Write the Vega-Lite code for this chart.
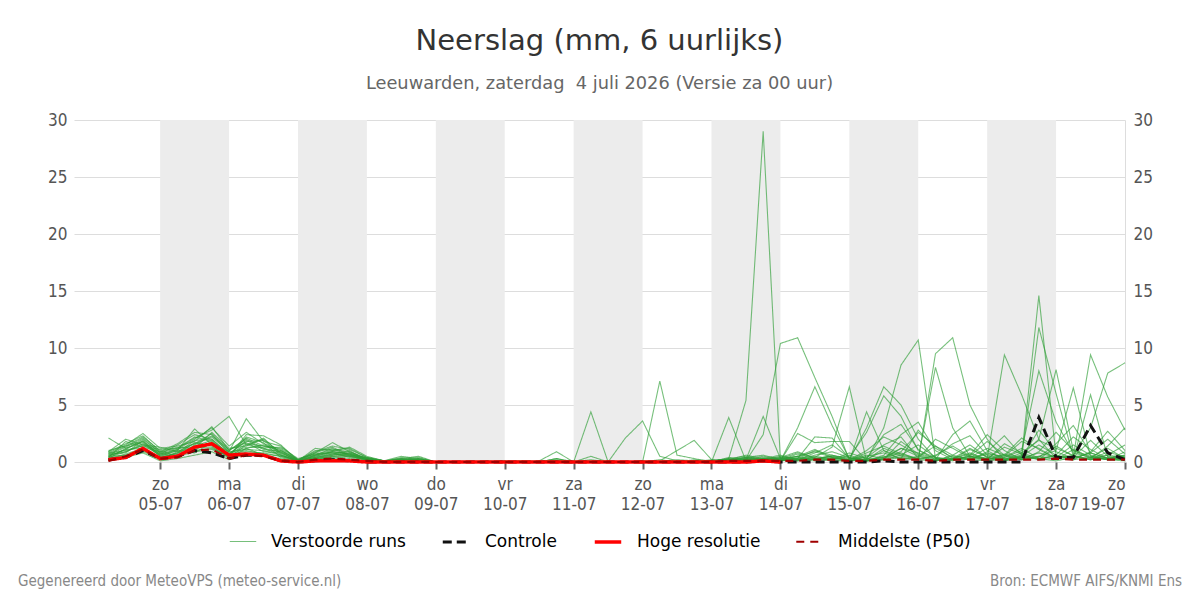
{
  "$schema": "https://vega.github.io/schema/vega-lite/v6.json",
  "background": "white",
  "padding": {"left": 18, "top": 27, "right": 18, "bottom": 6},
  "config": {
    "font": "DejaVu Sans",
    "view": {"stroke": null},
    "legend": {"layout": {"bottom": {"anchor": "middle"}}},
    "concat": {"spacing": 24}
  },
  "resolve": {
    "scale": {"color": "independent", "strokeDash": "independent", "strokeWidth": "independent", "opacity": "independent"},
    "legend": {"color": "independent", "strokeDash": "independent", "strokeWidth": "independent", "opacity": "independent"}
  },
  "datasets": {
    "series": [
      {"key": "m1", "type": "Verstoorde runs"}, {"key": "m2", "type": "Verstoorde runs"}, {"key": "m3", "type": "Verstoorde runs"},
      {"key": "m4", "type": "Verstoorde runs"}, {"key": "m5", "type": "Verstoorde runs"}, {"key": "m6", "type": "Verstoorde runs"},
      {"key": "m7", "type": "Verstoorde runs"}, {"key": "m8", "type": "Verstoorde runs"}, {"key": "m9", "type": "Verstoorde runs"},
      {"key": "m10", "type": "Verstoorde runs"}, {"key": "m11", "type": "Verstoorde runs"}, {"key": "m12", "type": "Verstoorde runs"},
      {"key": "m13", "type": "Verstoorde runs"}, {"key": "m14", "type": "Verstoorde runs"}, {"key": "m15", "type": "Verstoorde runs"},
      {"key": "m16", "type": "Verstoorde runs"}, {"key": "m17", "type": "Verstoorde runs"}, {"key": "m18", "type": "Verstoorde runs"},
      {"key": "m19", "type": "Verstoorde runs"}, {"key": "m20", "type": "Verstoorde runs"},
      {"key": "c", "type": "Controle"}, {"key": "h", "type": "Hoge resolutie"}, {"key": "p", "type": "Middelste (P50)"}
    ],
    "bands": [
      {"start": "2026-07-05T00:00", "end": "2026-07-06T00:00"},
      {"start": "2026-07-07T00:00", "end": "2026-07-08T00:00"},
      {"start": "2026-07-09T00:00", "end": "2026-07-10T00:00"},
      {"start": "2026-07-11T00:00", "end": "2026-07-12T00:00"},
      {"start": "2026-07-13T00:00", "end": "2026-07-14T00:00"},
      {"start": "2026-07-15T00:00", "end": "2026-07-16T00:00"},
      {"start": "2026-07-17T00:00", "end": "2026-07-18T00:00"}
    ],
    "ens": [
      {"t":"2026-07-04T06:00","m1":2.1,"m2":0.8,"m3":0.5,"m4":0.9,"m5":0.3,"m6":0.6,"m7":0.4,"m8":0.2,"m9":1.0,"m10":0.7,"m11":0.3,"m12":0.5,"m13":0.6,"m14":0.8,"m15":0.2,"m16":0.9,"m17":0.4,"m18":0.5,"m19":0.3,"m20":0.7,"c":0.2,"h":0.2,"p":0.1},
      {"t":"2026-07-04T12:00","m1":1.2,"m2":1.5,"m3":1.1,"m4":2.0,"m5":0.7,"m6":0.9,"m7":1.8,"m8":0.5,"m9":1.4,"m10":0.8,"m11":1.2,"m12":0.6,"m13":1.3,"m14":1.0,"m15":0.4,"m16":1.6,"m17":0.9,"m18":1.1,"m19":0.6,"m20":1.4,"c":0.4,"h":0.4,"p":0.5},
      {"t":"2026-07-04T18:00","m1":1.8,"m2":2.5,"m3":2.0,"m4":1.5,"m5":1.2,"m6":1.6,"m7":1.3,"m8":0.9,"m9":2.2,"m10":1.9,"m11":1.7,"m12":1.1,"m13":2.1,"m14":1.4,"m15":0.8,"m16":2.3,"m17":1.5,"m18":1.2,"m19":1.0,"m20":1.8,"c":1.0,"h":1.2,"p":1.1},
      {"t":"2026-07-05T00:00","m1":0.5,"m2":1.2,"m3":0.8,"m4":1.3,"m5":0.4,"m6":0.7,"m7":0.9,"m8":0.3,"m9":1.0,"m10":0.6,"m11":0.5,"m12":0.2,"m13":0.8,"m14":1.1,"m15":0.1,"m16":0.9,"m17":0.6,"m18":0.4,"m19":0.3,"m20":0.7,"c":0.3,"h":0.3,"p":0.3},
      {"t":"2026-07-05T06:00","m1":1.0,"m2":1.4,"m3":1.2,"m4":0.9,"m5":0.6,"m6":1.5,"m7":1.3,"m8":0.8,"m9":0.5,"m10":1.1,"m11":0.7,"m12":0.9,"m13":0.4,"m14":1.2,"m15":0.3,"m16":1.6,"m17":1.0,"m18":0.8,"m19":0.5,"m20":1.1,"c":0.5,"h":0.5,"p":0.4},
      {"t":"2026-07-05T12:00","m1":2.9,"m2":1.8,"m3":2.1,"m4":1.6,"m5":1.0,"m6":2.4,"m7":1.2,"m8":1.4,"m9":0.9,"m10":2.0,"m11":1.7,"m12":0.8,"m13":1.5,"m14":2.2,"m15":0.6,"m16":2.6,"m17":1.1,"m18":1.9,"m19":1.3,"m20":1.6,"c":1.0,"h":1.3,"p":1.0},
      {"t":"2026-07-05T18:00","m1":1.5,"m2":3.1,"m3":2.8,"m4":2.2,"m5":1.2,"m6":2.0,"m7":2.6,"m8":1.9,"m9":1.1,"m10":3.0,"m11":1.4,"m12":1.7,"m13":2.3,"m14":1.8,"m15":0.9,"m16":2.4,"m17":1.6,"m18":2.0,"m19":1.3,"m20":2.5,"c":0.8,"h":1.6,"p":1.1},
      {"t":"2026-07-06T00:00","m1":0.6,"m2":1.0,"m3":4.0,"m4":0.9,"m5":0.5,"m6":0.7,"m7":1.2,"m8":0.4,"m9":0.6,"m10":1.4,"m11":0.3,"m12":0.9,"m13":1.1,"m14":0.5,"m15":0.2,"m16":0.8,"m17":0.7,"m18":0.6,"m19":0.4,"m20":1.0,"c":0.3,"h":0.6,"p":0.3},
      {"t":"2026-07-06T06:00","m1":1.2,"m2":2.0,"m3":1.5,"m4":3.8,"m5":2.4,"m6":1.9,"m7":1.4,"m8":0.9,"m9":1.6,"m10":2.6,"m11":1.2,"m12":1.1,"m13":1.7,"m14":2.2,"m15":0.7,"m16":1.3,"m17":1.8,"m18":1.0,"m19":1.5,"m20":2.1,"c":0.6,"h":0.7,"p":0.6},
      {"t":"2026-07-06T12:00","m1":1.5,"m2":1.2,"m3":2.0,"m4":1.8,"m5":2.3,"m6":1.1,"m7":2.1,"m8":0.8,"m9":1.4,"m10":1.6,"m11":0.6,"m12":1.0,"m13":0.9,"m14":1.7,"m15":0.5,"m16":1.3,"m17":1.9,"m18":0.7,"m19":1.2,"m20":1.4,"c":0.6,"h":0.6,"p":0.5},
      {"t":"2026-07-06T18:00","m1":1.0,"m2":0.6,"m3":0.8,"m4":1.4,"m5":1.5,"m6":0.9,"m7":0.7,"m8":0.5,"m9":1.2,"m10":1.1,"m11":0.3,"m12":0.6,"m13":0.8,"m14":0.4,"m15":0.2,"m16":1.3,"m17":0.6,"m18":0.5,"m19":0.9,"m20":1.0,"c":0.1,"h":0.1,"p":0.1},
      {"t":"2026-07-07T00:00","m1":0.2,"m2":0.1,"m3":0.1,"m4":0.2,"m5":0.1,"m6":0.1,"m7":0,"m8":0.1,"m9":0.2,"m10":0.1,"m11":0,"m12":0.1,"m13":0.1,"m14":0,"m15":0,"m16":0.3,"m17":0.1,"m18":0,"m19":0.1,"m20":0.2,"c":0,"h":0,"p":0},
      {"t":"2026-07-07T06:00","m1":0.8,"m2":1.2,"m3":0.5,"m4":0.9,"m5":0.3,"m6":0.6,"m7":0.4,"m8":0.2,"m9":0.7,"m10":1.0,"m11":0.3,"m12":0.5,"m13":0.8,"m14":0.6,"m15":0.2,"m16":0.7,"m17":0.4,"m18":0.3,"m19":0.4,"m20":0.6,"c":0.1,"h":0.1,"p":0.2},
      {"t":"2026-07-07T12:00","m1":1.7,"m2":1.0,"m3":0.9,"m4":1.4,"m5":0.6,"m6":1.2,"m7":0.7,"m8":0.5,"m9":0.8,"m10":1.1,"m11":0.4,"m12":0.8,"m13":1.3,"m14":0.9,"m15":0.3,"m16":1.0,"m17":0.6,"m18":0.5,"m19":0.7,"m20":0.9,"c":0.2,"h":0.1,"p":0.3},
      {"t":"2026-07-07T18:00","m1":0.9,"m2":1.3,"m3":0.7,"m4":1.1,"m5":0.8,"m6":0.5,"m7":1.0,"m8":0.3,"m9":0.6,"m10":0.9,"m11":0.5,"m12":0.4,"m13":0.6,"m14":0.8,"m15":0.2,"m16":1.2,"m17":0.7,"m18":0.6,"m19":0.5,"m20":0.7,"c":0.1,"h":0.1,"p":0.2},
      {"t":"2026-07-08T00:00","m1":0.3,"m2":0.5,"m3":0.2,"m4":0.4,"m5":0.2,"m6":0.3,"m7":0.1,"m8":0.1,"m9":0.4,"m10":0.3,"m11":0.2,"m12":0.2,"m13":0.3,"m14":0.3,"m15":0.1,"m16":0.4,"m17":0.2,"m18":0.1,"m19":0.2,"m20":0.3,"c":0,"h":0,"p":0.1},
      {"t":"2026-07-08T06:00","m1":0,"m2":0.1,"m3":0,"m4":0.1,"m5":0,"m6":0.1,"m7":0,"m8":0,"m9":0.1,"m10":0,"m11":0,"m12":0,"m13":0.1,"m14":0,"m15":0,"m16":0.1,"m17":0,"m18":0,"m19":0,"m20":0.1,"c":0,"h":0,"p":0},
      {"t":"2026-07-08T12:00","m1":0.2,"m2":0.5,"m3":0.1,"m4":0.3,"m5":0,"m6":0.2,"m7":0.4,"m8":0,"m9":0.1,"m10":0.2,"m11":0.1,"m12":0.3,"m13":0.2,"m14":0.1,"m15":0,"m16":0.2,"m17":0.1,"m18":0.2,"m19":0.1,"m20":0.3,"c":0,"h":0,"p":0},
      {"t":"2026-07-08T18:00","m1":0.4,"m2":0.3,"m3":0.2,"m4":0.5,"m5":0.1,"m6":0,"m7":0.2,"m8":0,"m9":0.3,"m10":0.1,"m11":0,"m12":0.1,"m13":0.2,"m14":0.2,"m15":0.1,"m16":0.3,"m17":0.2,"m18":0.1,"m19":0,"m20":0.2,"c":0,"h":0,"p":0},
      {"t":"2026-07-09T00:00","m1":0,"m2":0,"m3":0,"m4":0,"m5":0,"m6":0,"m7":0,"m8":0,"m9":0,"m10":0,"m11":0,"m12":0,"m13":0,"m14":0,"m15":0,"m16":0,"m17":0,"m18":0,"m19":0,"m20":0,"c":0,"h":0,"p":0},
      {"t":"2026-07-09T06:00","m1":0,"m2":0,"m3":0,"m4":0,"m5":0,"m6":0,"m7":0,"m8":0,"m9":0,"m10":0,"m11":0,"m12":0,"m13":0,"m14":0,"m15":0,"m16":0,"m17":0,"m18":0,"m19":0,"m20":0,"c":0,"h":0,"p":0},
      {"t":"2026-07-09T12:00","m1":0,"m2":0.1,"m3":0,"m4":0,"m5":0,"m6":0,"m7":0,"m8":0,"m9":0,"m10":0,"m11":0,"m12":0,"m13":0,"m14":0,"m15":0,"m16":0,"m17":0,"m18":0,"m19":0,"m20":0,"c":0,"h":0,"p":0},
      {"t":"2026-07-09T18:00","m1":0,"m2":0,"m3":0,"m4":0.1,"m5":0,"m6":0,"m7":0,"m8":0,"m9":0,"m10":0,"m11":0,"m12":0,"m13":0,"m14":0,"m15":0,"m16":0,"m17":0,"m18":0,"m19":0,"m20":0,"c":0,"h":0,"p":0},
      {"t":"2026-07-10T00:00","m1":0.1,"m2":0,"m3":0,"m4":0,"m5":0,"m6":0.1,"m7":0,"m8":0,"m9":0,"m10":0,"m11":0,"m12":0,"m13":0,"m14":0,"m15":0,"m16":0,"m17":0,"m18":0,"m19":0,"m20":0,"c":0,"h":0,"p":0},
      {"t":"2026-07-10T06:00","m1":0,"m2":0,"m3":0,"m4":0,"m5":0,"m6":0,"m7":0.1,"m8":0,"m9":0,"m10":0,"m11":0,"m12":0,"m13":0,"m14":0,"m15":0,"m16":0.1,"m17":0,"m18":0,"m19":0,"m20":0,"c":0,"h":0,"p":0},
      {"t":"2026-07-10T12:00","m1":0,"m2":0.1,"m3":0,"m4":0,"m5":0,"m6":0,"m7":0,"m8":0,"m9":0,"m10":0,"m11":0,"m12":0,"m13":0.1,"m14":0,"m15":0,"m16":0,"m17":0,"m18":0,"m19":0,"m20":0,"c":0,"h":0,"p":0},
      {"t":"2026-07-10T18:00","m1":0.1,"m2":0.9,"m3":0.2,"m4":0,"m5":0,"m6":0,"m7":0,"m8":0.1,"m9":0.3,"m10":0,"m11":0,"m12":0,"m13":0,"m14":0,"m15":0,"m16":0,"m17":0,"m18":0.3,"m19":0,"m20":0,"c":0,"h":0,"p":0},
      {"t":"2026-07-11T00:00","m1":0,"m2":0,"m3":0,"m4":0,"m5":0,"m6":0,"m7":0,"m8":0,"m9":0,"m10":0,"m11":0,"m12":0,"m13":0,"m14":0.1,"m15":0,"m16":0,"m17":0,"m18":0,"m19":0,"m20":0,"c":0,"h":0,"p":0},
      {"t":"2026-07-11T06:00","m1":4.4,"m2":0.5,"m3":0,"m4":0,"m5":0.2,"m6":0,"m7":0,"m8":0,"m9":0,"m10":0.1,"m11":0,"m12":0,"m13":0,"m14":0,"m15":0,"m16":0,"m17":0,"m18":0,"m19":0,"m20":0,"c":0,"h":0,"p":0},
      {"t":"2026-07-11T12:00","m1":0,"m2":0,"m3":0,"m4":0,"m5":0,"m6":0.1,"m7":0,"m8":0,"m9":0,"m10":0,"m11":0,"m12":0,"m13":0,"m14":0,"m15":0,"m16":0,"m17":0,"m18":0,"m19":0,"m20":0,"c":0,"h":0,"p":0},
      {"t":"2026-07-11T18:00","m1":0,"m2":0,"m3":2.1,"m4":0,"m5":0,"m6":0,"m7":0,"m8":0,"m9":0,"m10":0,"m11":0,"m12":0,"m13":0,"m14":0,"m15":0,"m16":0,"m17":0,"m18":0,"m19":0,"m20":0,"c":0,"h":0,"p":0},
      {"t":"2026-07-12T00:00","m1":0.1,"m2":0,"m3":3.6,"m4":0,"m5":0,"m6":0,"m7":0.1,"m8":0,"m9":0,"m10":0,"m11":0,"m12":0,"m13":0,"m14":0,"m15":0,"m16":0,"m17":0,"m18":0,"m19":0,"m20":0,"c":0,"h":0,"p":0},
      {"t":"2026-07-12T06:00","m1":0,"m2":0.2,"m3":0.5,"m4":7.1,"m5":0.1,"m6":0,"m7":0,"m8":0,"m9":0,"m10":0,"m11":0,"m12":0,"m13":0,"m14":0,"m15":0,"m16":0,"m17":0,"m18":0,"m19":0,"m20":0,"c":0,"h":0,"p":0},
      {"t":"2026-07-12T12:00","m1":0,"m2":0,"m3":0.1,"m4":0.6,"m5":1.0,"m6":0.2,"m7":0,"m8":0,"m9":0,"m10":0,"m11":0,"m12":0,"m13":0,"m14":0,"m15":0,"m16":0,"m17":0.1,"m18":0,"m19":0,"m20":0,"c":0,"h":0,"p":0},
      {"t":"2026-07-12T18:00","m1":0.1,"m2":0,"m3":0,"m4":0.3,"m5":1.9,"m6":0.1,"m7":0.1,"m8":0,"m9":0,"m10":0,"m11":0,"m12":0,"m13":0,"m14":0,"m15":0,"m16":0,"m17":0,"m18":0,"m19":0,"m20":0.2,"c":0,"h":0,"p":0},
      {"t":"2026-07-13T00:00","m1":0,"m2":0,"m3":0.1,"m4":0,"m5":0.2,"m6":0,"m7":0.1,"m8":0,"m9":0,"m10":0.2,"m11":0,"m12":0.1,"m13":0,"m14":0.1,"m15":0,"m16":0,"m17":0.1,"m18":0.1,"m19":0,"m20":0.1,"c":0,"h":0,"p":0},
      {"t":"2026-07-13T06:00","m1":0.3,"m2":3.9,"m3":0.2,"m4":0.1,"m5":0.1,"m6":0.4,"m7":0.2,"m8":0.1,"m9":0.1,"m10":0.1,"m11":0.1,"m12":0.3,"m13":0.2,"m14":0.2,"m15":0.1,"m16":0.3,"m17":0.2,"m18":0.1,"m19":0.1,"m20":0.2,"c":0,"h":0,"p":0.1},
      {"t":"2026-07-13T12:00","m1":5.4,"m2":0.1,"m3":0.2,"m4":0.1,"m5":0.3,"m6":0.2,"m7":0.6,"m8":0.1,"m9":0.3,"m10":0.4,"m11":0.2,"m12":0.1,"m13":0.4,"m14":0.1,"m15":0.2,"m16":0.5,"m17":0.3,"m18":0.2,"m19":0.1,"m20":0.4,"c":0,"h":0,"p":0.1},
      {"t":"2026-07-13T18:00","m1":29.0,"m2":0.3,"m3":4.0,"m4":2.4,"m5":0.2,"m6":0.1,"m7":0.3,"m8":0.2,"m9":0.2,"m10":0.6,"m11":0.1,"m12":0.2,"m13":0.2,"m14":0.3,"m15":0.1,"m16":0.2,"m17":0.5,"m18":0.4,"m19":0.3,"m20":0.2,"c":0.1,"h":0.1,"p":0.1},
      {"t":"2026-07-14T00:00","m1":0.2,"m2":0.2,"m3":0.3,"m4":10.4,"m5":0.1,"m6":0.3,"m7":0.1,"m8":0.1,"m9":0.5,"m10":0.2,"m11":0.4,"m12":0.4,"m13":0.1,"m14":0.2,"m15":0.2,"m16":0.1,"m17":0.3,"m18":0.2,"m19":0.6,"m20":0.3,"c":0,"h":0,"p":0.1},
      {"t":"2026-07-14T06:00","m1":0.1,"m2":0.5,"m3":0.2,"m4":10.9,"m5":3.0,"m6":0.8,"m7":2.5,"m8":0.4,"m9":0.2,"m10":0.7,"m11":0.3,"m12":0.9,"m13":0.3,"m14":0.5,"m15":0.1,"m16":0.2,"m17":0.2,"m18":0.3,"m19":0.2,"m20":0.5,"c":0,"p":0.1},
      {"t":"2026-07-14T12:00","m1":0.3,"m2":1.1,"m3":0.8,"m4":7.4,"m5":6.6,"m6":0.4,"m7":1.7,"m8":0.2,"m9":0.1,"m10":0.3,"m11":1.0,"m12":0.3,"m13":2.2,"m14":0.2,"m15":0.3,"m16":0.5,"m17":0.6,"m18":0.2,"m19":0.4,"m20":0.9,"c":0,"p":0.2},
      {"t":"2026-07-14T18:00","m1":0.5,"m2":0.4,"m3":1.5,"m4":4.0,"m5":3.2,"m6":1.3,"m7":1.8,"m8":0.1,"m9":0.3,"m10":0.5,"m11":0.6,"m12":0.2,"m13":2.1,"m14":0.4,"m15":0.2,"m16":0.3,"m17":0.9,"m18":0.6,"m19":0.2,"m20":0.4,"c":0,"p":0.2},
      {"t":"2026-07-15T00:00","m1":0.1,"m2":0.2,"m3":0.4,"m4":0.2,"m5":0.3,"m6":6.6,"m7":1.8,"m8":0.1,"m9":0.2,"m10":0.4,"m11":0.2,"m12":0.6,"m13":0.3,"m14":0.1,"m15":0.1,"m16":0.2,"m17":0.4,"m18":0.3,"m19":0.8,"m20":0.2,"c":0,"p":0.1},
      {"t":"2026-07-15T06:00","m1":0.2,"m2":1.0,"m3":0.1,"m4":0.1,"m5":0.2,"m6":0.1,"m7":0.1,"m8":4.4,"m9":3.0,"m10":2.6,"m11":0.2,"m12":0.1,"m13":0.4,"m14":0.3,"m15":0.5,"m16":0.6,"m17":0.1,"m18":0.2,"m19":0.3,"m20":0.8,"c":0,"p":0.1},
      {"t":"2026-07-15T12:00","m1":0.4,"m2":2.2,"m3":0.6,"m4":0.3,"m5":1.2,"m6":0.2,"m7":0.5,"m8":1.0,"m9":6.6,"m10":5.8,"m11":3.0,"m12":0.2,"m13":1.5,"m14":2.4,"m15":0.8,"m16":0.3,"m17":0.4,"m18":1.0,"m19":0.2,"m20":1.4,"c":0.1,"p":0.2},
      {"t":"2026-07-15T18:00","m1":1.2,"m2":1.5,"m3":2.4,"m4":0.8,"m5":0.6,"m6":1.8,"m7":0.3,"m8":0.2,"m9":5.0,"m10":4.0,"m11":8.5,"m12":0.4,"m13":2.2,"m14":3.3,"m15":0.3,"m16":1.2,"m17":0.9,"m18":0.5,"m19":0.6,"m20":0.7,"c":0,"p":0.2},
      {"t":"2026-07-16T00:00","m1":0.5,"m2":0.6,"m3":3.5,"m4":0.2,"m5":0.3,"m6":0.7,"m7":2.8,"m8":0.5,"m9":2.0,"m10":1.0,"m11":10.7,"m12":0.2,"m13":0.3,"m14":1.1,"m15":0.2,"m16":0.8,"m17":2.6,"m18":0.3,"m19":1.5,"m20":0.3,"c":0,"p":0.2},
      {"t":"2026-07-16T06:00","m1":0.1,"m2":0.1,"m3":1.0,"m4":0.1,"m5":2.0,"m6":0.2,"m7":1.2,"m8":1.4,"m9":0.3,"m10":0.4,"m11":0.3,"m12":9.5,"m13":8.3,"m14":0.2,"m15":0.6,"m16":0.3,"m17":1.4,"m18":0.5,"m19":0.4,"m20":0.2,"c":0,"p":0.1},
      {"t":"2026-07-16T12:00","m1":0.3,"m2":0.3,"m3":0.2,"m4":0.6,"m5":1.2,"m6":2.4,"m7":0.4,"m8":0.6,"m9":0.1,"m10":0.2,"m11":0.2,"m12":10.9,"m13":3.0,"m14":0.3,"m15":1.4,"m16":0.2,"m17":0.3,"m18":1.6,"m19":0.2,"m20":0.5,"c":0,"p":0.2},
      {"t":"2026-07-16T18:00","m1":0.8,"m2":1.2,"m3":0.5,"m4":1.5,"m5":0.4,"m6":3.6,"m7":0.2,"m8":0.2,"m9":0.6,"m10":0.3,"m11":0.5,"m12":5.0,"m13":0.5,"m14":0.7,"m15":0.5,"m16":1.1,"m17":0.2,"m18":2.3,"m19":0.4,"m20":0.3,"c":0,"p":0.2},
      {"t":"2026-07-17T00:00","m1":0.2,"m2":0.4,"m3":1.8,"m4":0.4,"m5":0.2,"m6":1.0,"m7":0.9,"m8":0.1,"m9":2.4,"m10":0.7,"m11":0.3,"m12":2.0,"m13":0.2,"m14":0.3,"m15":0.3,"m16":0.5,"m17":0.8,"m18":0.6,"m19":1.2,"m20":0.2,"c":0,"p":0.2},
      {"t":"2026-07-17T06:00","m1":0.1,"m2":0.2,"m3":0.6,"m4":0.1,"m5":1.6,"m6":0.2,"m7":2.3,"m8":0.4,"m9":1.0,"m10":0.5,"m11":1.3,"m12":0.2,"m13":0.6,"m14":9.4,"m15":0.2,"m16":0.3,"m17":0.4,"m18":0.3,"m19":0.6,"m20":0.7,"c":0,"p":0.2},
      {"t":"2026-07-17T12:00","m1":0.5,"m2":0.8,"m3":0.2,"m4":0.3,"m5":0.8,"m6":0.4,"m7":0.6,"m8":1.2,"m9":0.2,"m10":1.8,"m11":0.7,"m12":0.3,"m13":2.1,"m14":5.9,"m15":0.5,"m16":0.4,"m17":1.0,"m18":0.6,"m19":0.2,"m20":0.4,"c":0,"p":0.2},
      {"t":"2026-07-17T18:00","m1":1.5,"m2":1.9,"m3":0.9,"m4":0.5,"m5":0.3,"m6":2.8,"m7":0.2,"m8":0.3,"m9":0.4,"m10":1.2,"m11":0.2,"m12":0.8,"m13":1.1,"m14":2.0,"m15":14.6,"m16":11.8,"m17":8.0,"m18":2.0,"m19":0.5,"m20":0.3,"c":3.9,"p":0.2},
      {"t":"2026-07-18T00:00","m1":0.6,"m2":1.2,"m3":2.6,"m4":0.2,"m5":0.6,"m6":0.9,"m7":1.4,"m8":0.1,"m9":1.6,"m10":0.3,"m11":0.6,"m12":0.4,"m13":0.3,"m14":0.3,"m15":0.5,"m16":6.0,"m17":3.5,"m18":8.1,"m19":1.0,"m20":0.5,"c":0.4,"p":0.3},
      {"t":"2026-07-18T06:00","m1":0.2,"m2":0.6,"m3":1.0,"m4":1.1,"m5":2.2,"m6":0.3,"m7":0.5,"m8":0.4,"m9":3.2,"m10":0.2,"m11":0.2,"m12":1.5,"m13":0.6,"m14":0.5,"m15":0.4,"m16":0.5,"m17":0.8,"m18":1.0,"m19":6.5,"m20":0.5,"c":0.4,"p":0.2},
      {"t":"2026-07-18T12:00","m1":5.9,"m2":3.0,"m3":0.3,"m4":0.4,"m5":1.1,"m6":0.8,"m7":0.2,"m8":1.9,"m9":0.8,"m10":0.9,"m11":0.4,"m12":0.6,"m13":0.2,"m14":0.2,"m15":0.8,"m16":0.3,"m17":0.4,"m18":0.5,"m19":0.5,"m20":9.4,"c":3.2,"p":0.2},
      {"t":"2026-07-18T18:00","m1":0.4,"m2":7.8,"m3":1.4,"m4":0.2,"m5":0.3,"m6":2.0,"m7":0.6,"m8":0.5,"m9":0.3,"m10":2.7,"m11":1.2,"m12":0.2,"m13":0.9,"m14":0.4,"m15":0.3,"m16":0.6,"m17":0.2,"m18":0.3,"m19":0.2,"m20":5.7,"c":0.8,"p":0.2},
      {"t":"2026-07-19T00:00","m1":0.2,"m2":8.7,"m3":3.0,"m4":0.5,"m5":0.6,"m6":0.7,"m7":1.5,"m8":0.2,"m9":0.4,"m10":1.0,"m11":0.3,"m12":0.3,"m13":0.4,"m14":0.6,"m15":0.2,"m16":0.4,"m17":0.9,"m18":0.2,"m19":0.1,"m20":2.8,"c":0.2,"p":0.2}
    ]
  },
  "vconcat": [
    {
      "width": 1051,
      "height": 342,
      "title": {
        "text": "Neerslag (mm, 6 uurlijks)",
        "subtitle": "Leeuwarden, zaterdag\u00a0 4 juli 2026 (Versie za 00 uur)",
        "font": "DejaVu Sans",
        "subtitleFont": "DejaVu Sans",
        "fontSize": 29,
        "fontWeight": "normal",
        "color": "#333333",
        "subtitleFontSize": 17.8,
        "subtitleColor": "#666666",
        "subtitlePadding": 19,
        "offset": 18,
        "anchor": "middle",
        "frame": "group"
      },
      "layer": [
        {
          "data": {"name": "bands"},
          "mark": {"type": "rect", "color": "#ececec"},
          "encoding": {
            "x": {
              "field": "start",
              "type": "temporal",
              "title": null,
              "scale": {"domain": [{"year": 2026, "month": 7, "date": 3, "hours": 18}, {"year": 2026, "month": 7, "date": 19}]},
              "axis": {
                "title": null,
                "orient": "bottom",
                "grid": false,
                "domain": false,
                "ticks": true,
                "tickColor": "#666666",
                "tickSize": 7,
                "tickWidth": 2,
                "labelFont": "DejaVu Sans Condensed, DejaVu Sans",
                "labelFontSize": 17,
                "labelColor": "#555555",
                "labelPadding": 7,
                "labelLineHeight": 20,
                "values": [
                  {"year": 2026, "month": 7, "date": 5}, {"year": 2026, "month": 7, "date": 6}, {"year": 2026, "month": 7, "date": 7},
                  {"year": 2026, "month": 7, "date": 8}, {"year": 2026, "month": 7, "date": 9}, {"year": 2026, "month": 7, "date": 10},
                  {"year": 2026, "month": 7, "date": 11}, {"year": 2026, "month": 7, "date": 12}, {"year": 2026, "month": 7, "date": 13},
                  {"year": 2026, "month": 7, "date": 14}, {"year": 2026, "month": 7, "date": 15}, {"year": 2026, "month": 7, "date": 16},
                  {"year": 2026, "month": 7, "date": 17}, {"year": 2026, "month": 7, "date": 18}, {"year": 2026, "month": 7, "date": 19}
                ],
                "labelExpr": "[['zo','ma','di','wo','do','vr','za'][day(datum.value)], timeFormat(datum.value, '%d-%m')]"
              }
            },
            "x2": {"field": "end"}
          }
        },
        {
          "mark": {"type": "rule", "color": "#dddddd", "strokeWidth": 1},
          "encoding": {
            "y": {
              "datum": 0, "type": "quantitative",
              "scale": {"domain": [0, 30], "nice": false},
              "axis": {"orient": "right", "title": null, "grid": false, "domain": true, "domainColor": "#dddddd", "ticks": false, "labelFont": "DejaVu Sans Condensed, DejaVu Sans", "labelFontSize": 17, "labelColor": "#555555", "labelPadding": 8, "values": [0, 5, 10, 15, 20, 25, 30]}
            }
          }
        },
        {
          "data": {"name": "ens"},
          "transform": [
            {"fold": ["m1","m2","m3","m4","m5","m6","m7","m8","m9","m10","m11","m12","m13","m14","m15","m16","m17","m18","m19","m20","c","h","p"], "as": ["key", "v"]},
            {"lookup": "key", "from": {"data": {"name": "series"}, "key": "key", "fields": ["type"]}}
          ],
          "mark": {"type": "line", "interpolate": "linear"},
          "encoding": {
            "x": {"field": "t", "type": "temporal", "title": null},
            "y": {
              "field": "v", "type": "quantitative", "title": null,
              "axis": {"orient": "left", "title": null, "grid": true, "gridColor": "#dddddd", "domain": false, "ticks": false, "labelFont": "DejaVu Sans Condensed, DejaVu Sans", "labelFontSize": 17, "labelColor": "#555555", "labelPadding": 7, "values": [0, 5, 10, 15, 20, 25, 30], "minExtent": 56, "maxExtent": 56}
            },
            "detail": {"field": "key"},
            "color": {
              "field": "type", "type": "nominal",
              "scale": {"domain": ["Verstoorde runs", "Controle", "Hoge resolutie", "Middelste (P50)"], "range": ["#2e9e35", "#111111", "#ff0000", "#a00000"]},
              "legend": {"title": null, "orient": "bottom", "direction": "horizontal", "symbolType": "stroke", "symbolSize": 700, "labelFontSize": 17, "labelColor": "#000000", "labelFont": "DejaVu Sans", "labelOffset": 14, "columnPadding": 30, "offset": 15}
            },
            "strokeDash": {
              "field": "type", "type": "nominal",
              "scale": {"domain": ["Verstoorde runs", "Controle", "Hoge resolutie", "Middelste (P50)"], "range": [[1, 0], [9, 5], [1, 0], [8, 6]]},
              "legend": {"title": null, "orient": "bottom", "direction": "horizontal", "symbolType": "stroke", "symbolSize": 700, "labelFontSize": 17, "labelColor": "#000000", "labelFont": "DejaVu Sans", "labelOffset": 14, "columnPadding": 30, "offset": 15}
            },
            "strokeWidth": {
              "field": "type", "type": "nominal",
              "scale": {"type": "ordinal", "domain": ["Verstoorde runs", "Controle", "Hoge resolutie", "Middelste (P50)"], "range": [1.1, 3, 3.5, 2.2]},
              "legend": {"title": null, "orient": "bottom", "direction": "horizontal", "symbolType": "stroke", "symbolSize": 700, "labelFontSize": 17, "labelColor": "#000000", "labelFont": "DejaVu Sans", "labelOffset": 14, "columnPadding": 30, "offset": 15}
            },
            "opacity": {
              "field": "type", "type": "nominal",
              "scale": {"type": "ordinal", "domain": ["Verstoorde runs", "Controle", "Hoge resolutie", "Middelste (P50)"], "range": [0.65, 1, 1, 1]},
              "legend": {"title": null, "orient": "bottom", "direction": "horizontal", "symbolType": "stroke", "symbolSize": 700, "labelFontSize": 17, "labelColor": "#000000", "labelFont": "DejaVu Sans", "labelOffset": 14, "columnPadding": 30, "offset": 15}
            }
          }
        }
      ],
      "resolve": {"axis": {"y": "independent"}}
    },
    {
      "width": 1108,
      "height": 14,
      "layer": [
        {
          "data": {"values": [{"label": "Gegenereerd door MeteoVPS (meteo-service.nl)"}]},
          "mark": {"type": "text", "align": "left", "baseline": "middle", "dx": -56, "fontSize": 15, "color": "#888888", "font": "DejaVu Sans Condensed, DejaVu Sans"},
          "encoding": {
            "x": {"datum": 0, "type": "quantitative", "scale": {"domain": [0, 1]}, "axis": null},
            "text": {"field": "label"}
          }
        },
        {
          "data": {"values": [{"label": "Bron: ECMWF AIFS/KNMI Ens"}]},
          "mark": {"type": "text", "align": "right", "baseline": "middle", "fontSize": 15, "color": "#888888", "font": "DejaVu Sans Condensed, DejaVu Sans"},
          "encoding": {
            "x": {"datum": 1, "type": "quantitative", "axis": null},
            "text": {"field": "label"}
          }
        }
      ]
    }
  ]
}
